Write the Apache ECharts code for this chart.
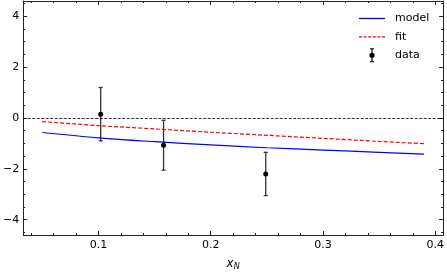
<!DOCTYPE html>
<html>
<head>
<meta charset="utf-8">
<script src="https://cdn.jsdelivr.net/npm/echarts@6/dist/echarts.min.js"></script>
<style>html,body{margin:0;padding:0;background:#fff}#c{width:447px;height:276px}</style>
</head>
<body>
<div id="c"></div>
<script>
// ---- data ----
const xCurve = [0.05, 0.10, 0.15, 0.20, 0.25, 0.30, 0.35, 0.39];
const yModel = [-0.57, -0.78, -0.93, -1.06, -1.17, -1.26, -1.35, -1.42];
const yFit   = [-0.14, -0.30, -0.43, -0.56, -0.68, -0.80, -0.92, -1.01];
const xData  = [0.102, 0.158, 0.249];
const yData  = [0.15, -1.07, -2.20];
const eData  = [1.05, 0.98, 0.85];
const xMajor = [0.1, 0.2, 0.3, 0.4];
const xMinor = [0.04, 0.06, 0.08, 0.12, 0.14, 0.16, 0.18, 0.22, 0.24, 0.26, 0.28, 0.32, 0.34, 0.36, 0.38];
const yMajor = [-4, -2, 0, 2, 4];
const yMinor = [-4.5, -3.5, -3, -2.5, -1.5, -1, -0.5, 0.5, 1, 1.5, 2.5, 3, 3.5, 4.5];
const xRange = [0.033, 0.407];
const yRange = [-4.6, 4.6];

const FONT = 'DejaVu Sans';
const AX = '#222';
const modelData = xCurve.map((x, i) => [x, yModel[i]]);
const fitData = xCurve.map((x, i) => [x, yFit[i]]);
const pts = xData.map((x, i) => [x, yData[i], eData[i]]);

function xAx(pos, vals, len, labels, line) {
  return {
    type: 'value', position: pos, min: xRange[0], max: xRange[1],
    axisLine: {show: line, onZero: false, lineStyle: {color: AX, width: 1}},
    axisTick: {show: true, inside: true, length: len, customValues: vals, lineStyle: {color: AX, width: 1}},
    axisLabel: labels ? {show: true, customValues: vals, fontSize: 11, fontFamily: FONT, color: '#000', margin: 5} : {show: false},
    splitLine: {show: false}
  };
}
function yAx(pos, vals, len, labels, line) {
  return {
    type: 'value', position: pos, min: yRange[0], max: yRange[1],
    axisLine: {show: line, onZero: false, lineStyle: {color: AX, width: 1}},
    axisTick: {show: true, inside: true, length: len, customValues: vals, lineStyle: {color: AX, width: 1}},
    axisLabel: labels ? {show: true, customValues: vals, fontSize: 11, fontFamily: FONT, color: '#000', margin: 4,
      formatter: v => String(v).replace('-', '\u2212')} : {show: false},
    splitLine: {show: false}
  };
}

const xAxes = [
  xAx('bottom', xMajor, 4, true, true),
  xAx('bottom', xMinor, 2, false, false),
  xAx('top', xMajor, 4, false, true),
  xAx('top', xMinor, 2, false, false)
];
xAxes[0].name = '{x|x}{n|N}';
xAxes[0].nameLocation = 'middle';
xAxes[0].nameGap = 21;
xAxes[0].nameTextStyle = {
  fontFamily: FONT, color: '#000',
  rich: {
    x: {fontSize: 12, fontStyle: 'italic', fontFamily: FONT, color: '#000'},
    n: {fontSize: 8, fontStyle: 'italic', fontFamily: FONT, color: '#000', padding: [7, 0, 0, 0]}
  }
};
const yAxes = [
  yAx('left', yMajor, 4, true, true),
  yAx('left', yMinor, 2, false, false),
  yAx('right', yMajor, 4, false, true),
  yAx('right', yMinor, 2, false, false)
];

const lineIcon = 'path://M0,0H26V1.3H0Z';
const dashIcon = 'path://M0,0H3V1.3H0Z M4.6,0H7.6V1.3H4.6Z M9.2,0H12.2V1.3H9.2Z M13.8,0H16.8V1.3H13.8Z M18.4,0H21.4V1.3H18.4Z M23,0H26V1.3H23Z';
const errIcon = 'path://M2,0H6V1H2Z M3.4,1H4.6V5H3.4Z M3.4,9H4.6V13H3.4Z M2,13H6V14H2Z M1.4,7A2.6,2.6 0 1,1 6.6,7A2.6,2.6 0 1,1 1.4,7Z';

const chart = echarts.init(document.getElementById('c'), null, {renderer: 'canvas'});
chart.setOption({
  animation: false,
  backgroundColor: '#fff',
  textStyle: {fontFamily: FONT},
  grid: {left: 23, right: 3, top: 1, bottom: 31, containLabel: false},
  xAxis: xAxes,
  yAxis: yAxes,
  legend: {
    orient: 'vertical', left: 359, top: 11.5, padding: 0,
    itemWidth: 26, itemHeight: 14, itemGap: 4.4,
    textStyle: {fontSize: 11, fontFamily: FONT, color: '#000', padding: [0, 0, 0, 5], lineHeight: 14},
    data: [
      {name: 'model', icon: lineIcon, itemStyle: {color: '#0000ff'}},
      {name: 'fit', icon: dashIcon, itemStyle: {color: '#ff0000'}},
      {name: 'data', icon: errIcon, itemStyle: {color: '#000'}}
    ]
  },
  series: [
    {
      name: 'model', type: 'line', data: modelData, showSymbol: false, symbol: 'none', smooth: 0.3,
      lineStyle: {color: '#0000ff', width: 1.2}, itemStyle: {color: '#0000ff'},
      markLine: {
        silent: true, symbol: 'none', label: {show: false},
        lineStyle: {color: '#000', width: 0.8, type: [3, 1.5]},
        data: [{yAxis: 0}]
      }
    },
    {
      name: 'fit', type: 'line', data: fitData, showSymbol: false, symbol: 'none', smooth: 0.3,
      lineStyle: {color: '#ff0000', width: 1.2, type: [4, 2]}, itemStyle: {color: '#ff0000'}
    },
    {
      name: 'errbars', type: 'custom', data: pts,
      renderItem: function (params, api) {
        const x = api.value(0), y = api.value(1), e = api.value(2);
        const t = api.coord([x, y + e]);
        const b = api.coord([x, y - e]);
        const s = {stroke: '#333', lineWidth: 1.3};
        return {
          type: 'group', children: [
            {type: 'line', shape: {x1: t[0], y1: t[1], x2: b[0], y2: b[1]}, style: s},
            {type: 'line', shape: {x1: t[0] - 2, y1: t[1], x2: t[0] + 2, y2: t[1]}, style: s},
            {type: 'line', shape: {x1: b[0] - 2, y1: b[1], x2: b[0] + 2, y2: b[1]}, style: s}
          ]
        };
      },
      z: 3
    },
    {
      name: 'data', type: 'scatter', data: pts.map(p => [p[0], p[1]]),
      symbol: 'circle', symbolSize: 5, itemStyle: {color: '#000', opacity: 1}, z: 4
    }
  ]
});
</script>
</body>
</html>
